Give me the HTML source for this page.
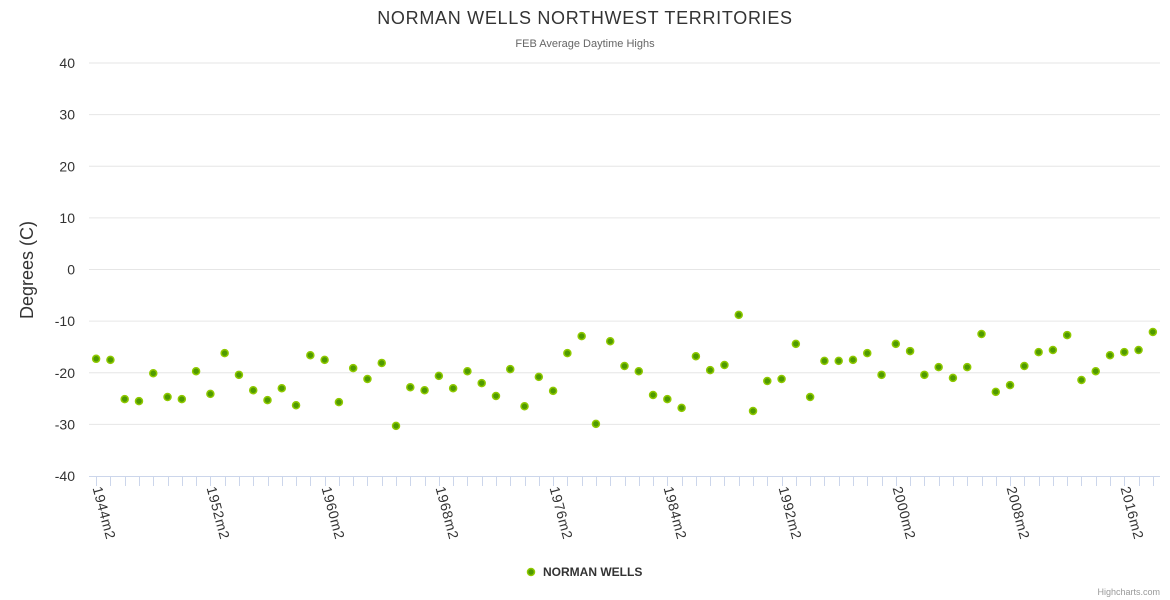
<!DOCTYPE html>
<html><head><meta charset="utf-8"><style>
body{margin:0;background:#fff;font-family:"Liberation Sans",sans-serif}
svg{display:block}
</style></head><body>
<svg id="chart" width="1170" height="600">
<text x="585" y="24" text-anchor="middle" font-size="18" letter-spacing="0.7" fill="#333">NORMAN WELLS NORTHWEST TERRITORIES</text>
<text x="585" y="47" text-anchor="middle" font-size="11" fill="#666">FEB Average Daytime Highs</text>
<text transform="translate(33,270) rotate(-90)" text-anchor="middle" font-size="18" fill="#333">Degrees (C)</text>
<g id="grid"></g><g id="xaxis"></g><g id="pts"></g>
<g>
<circle cx="531" cy="572" r="3.5" fill="#4f9a00" stroke="#8fc900" stroke-width="1.5"/>
<text x="543" y="576" font-size="12" font-weight="bold" fill="#333">NORMAN WELLS</text>
</g>
<text x="1160" y="595" text-anchor="end" font-size="9" fill="#999">Highcharts.com</text>
</svg>
<script>
const startYear = 1944;
const values = [-17.3,-17.5,-25.1,-25.5,-20.1,-24.7,-25.1,-19.7,-24.1,-16.2,-20.4,-23.4,-25.3,-23.0,-26.3,-16.6,-17.5,-25.7,-19.1,-21.2,-18.1,-30.3,-22.8,-23.4,-20.6,-23.0,-19.7,-22.0,-24.5,-19.3,-26.5,-20.8,-23.5,-16.2,-12.9,-29.9,-13.9,-18.7,-19.7,-24.3,-25.1,-26.8,-16.8,-19.5,-18.5,-8.8,-27.4,-21.6,-21.2,-14.4,-24.7,-17.7,-17.7,-17.5,-16.2,-20.4,-14.4,-15.8,-20.4,-18.9,-21.0,-18.9,-12.5,-23.7,-22.4,-18.7,-16.0,-15.6,-12.7,-21.4,-19.7,-16.6,-16.0,-15.6,-12.1];
const categories = values.map((v,i)=>(startYear+i)+"m2");
const yTicks = [40,30,20,10,0,-10,-20,-30,-40];
const NS="http://www.w3.org/2000/svg";
const x0=89, x1=1160, yTop=63, yBot=476;
const step=(x1-x0)/categories.length;
const xs=i=>x0+step*(i+0.5);
const ys=v=>yTop+(40-v)/80*(yBot-yTop);
function mk(t,a,p){const e=document.createElementNS(NS,t);for(const k in a)e.setAttribute(k,a[k]);p.appendChild(e);return e;}
const grid=document.getElementById('grid');
yTicks.forEach(t=>{
  const y=ys(t);
  if(t!==-40){const l=mk('line',{x1:x0,x2:x1,y1:y,y2:y,stroke:'#e6e6e6'},grid);
  
  }
  const tx=mk('text',{x:75,y:y+5,'text-anchor':'end','font-size':14,fill:'#333'},grid);
  tx.textContent=t;
  
  
});
const xa=document.getElementById('xaxis');
const al=mk('line',{x1:x0,x2:x1,y1:yBot+0.5,y2:yBot+0.5,stroke:'#ccd6eb'},xa);


categories.forEach((c,i)=>{
  const x=Math.round(xs(i))+0.5;
  const tk=mk('line',{x1:x,x2:x,y1:yBot,y2:yBot+10,stroke:'#ccd6eb'},xa);
  
  
  if(i%8===0){
    const t=mk('text',{transform:`translate(${x-4},${yBot+12}) rotate(75)`,'font-size':14,'letter-spacing':0.6,fill:'#333'},xa);
    t.textContent=c;
    
    
  }
});
const pts=document.getElementById('pts');
values.forEach((v,i)=>{
  const c=mk('circle',{cx:xs(i),cy:ys(v),r:3.5,fill:'#4f9a00',stroke:'#8fc900','stroke-width':1.5},pts);
  
  
});
</script>
</body></html>
